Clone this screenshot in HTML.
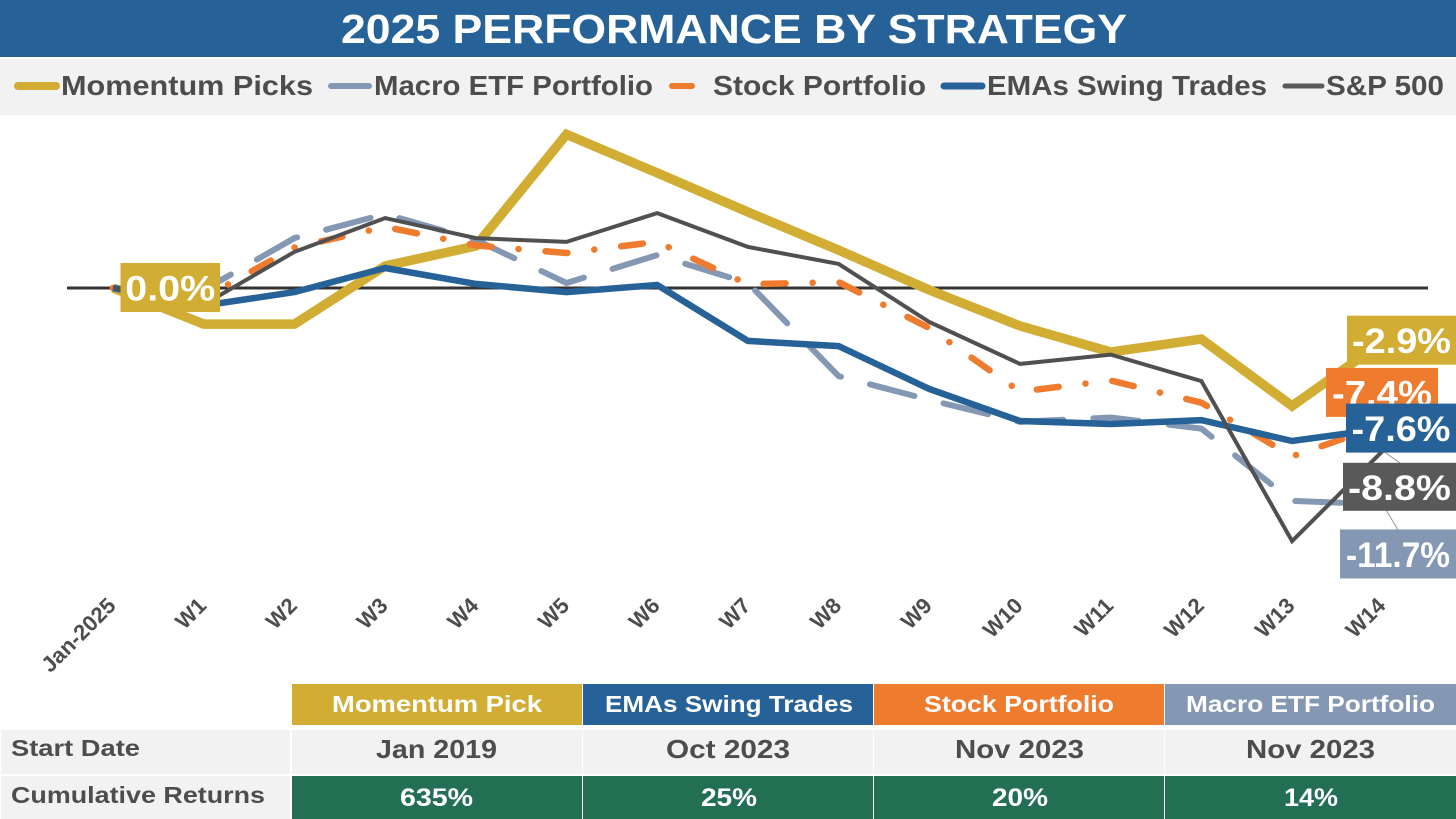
<!DOCTYPE html>
<html lang="en">
<head>
<meta charset="utf-8">
<title>2025 Performance by Strategy</title>
<style>
  html, body { margin: 0; padding: 0; background: #fff; }
  body { width: 1456px; height: 819px; overflow: hidden; }
  svg { display: block; font-family: "Liberation Sans", "DejaVu Sans", sans-serif; font-weight: 700; }
</style>
</head>
<body>
<svg id="chart" xmlns="http://www.w3.org/2000/svg" width="1456" height="819" viewBox="0 0 1456 819">
  <rect x="0" y="0" width="1456" height="819" fill="#ffffff"/>
  <g>
    <rect x="0" y="0" width="1456" height="57" fill="#266298"/>
    <text x="341" y="43" font-size="41" fill="#ffffff" textLength="786" lengthAdjust="spacingAndGlyphs">2025 PERFORMANCE BY STRATEGY</text>
  </g>
  <g font-size="28" fill="#4d4d4d">
    <rect x="0" y="59" width="1456" height="56" fill="#f2f2f2"/>
    <g>
      <line x1="18" y1="86" x2="56" y2="86" stroke="#d2ad33" stroke-width="8" stroke-linecap="round"/>
      <text x="61" y="95" textLength="252" lengthAdjust="spacingAndGlyphs">Momentum Picks</text>
    </g>
    <g>
      <line x1="331" y1="86" x2="369" y2="86" stroke="#8497b3" stroke-width="6" stroke-linecap="round"/>
      <text x="374" y="95" textLength="279" lengthAdjust="spacingAndGlyphs">Macro ETF Portfolio</text>
    </g>
    <g>
      <line x1="672" y1="86" x2="692" y2="86" stroke="#ef7b2e" stroke-width="6" stroke-linecap="round"/>
      <text x="713" y="95" textLength="213" lengthAdjust="spacingAndGlyphs">Stock Portfolio</text>
    </g>
    <g>
      <line x1="944" y1="86" x2="982" y2="86" stroke="#266298" stroke-width="7" stroke-linecap="round"/>
      <text x="987" y="95" textLength="280" lengthAdjust="spacingAndGlyphs">EMAs Swing Trades</text>
    </g>
    <g>
      <line x1="1285" y1="86" x2="1322" y2="86" stroke="#595959" stroke-width="5" stroke-linecap="round"/>
      <text x="1326" y="95" textLength="118" lengthAdjust="spacingAndGlyphs">S&amp;P 500</text>
    </g>
  </g>
  <g id="plot"></g>
  <g text-anchor="middle">
    <g font-size="23.5" fill="#ffffff">
      <rect x="292" y="684" width="290" height="41" fill="#d2ad33"/>
      <rect x="583" y="684" width="290" height="41" fill="#266298"/>
      <rect x="874" y="684" width="290" height="41" fill="#ef7b2e"/>
      <rect x="1165" y="684" width="291" height="41" fill="#8497b3"/>
      <text x="437" y="712" textLength="210" lengthAdjust="spacingAndGlyphs">Momentum Pick</text>
      <text x="729" y="712" textLength="248" lengthAdjust="spacingAndGlyphs">EMAs Swing Trades</text>
      <text x="1019" y="712" textLength="190" lengthAdjust="spacingAndGlyphs">Stock Portfolio</text>
      <text x="1310.500" y="712" textLength="249" lengthAdjust="spacingAndGlyphs">Macro ETF Portfolio</text>
    </g>
    <g fill="#4d4d4d">
      <rect x="1" y="730" width="289" height="44" fill="#f2f2f2"/>
      <rect x="292" y="730" width="290" height="44" fill="#f2f2f2"/>
      <rect x="583" y="730" width="290" height="44" fill="#f2f2f2"/>
      <rect x="874" y="730" width="290" height="44" fill="#f2f2f2"/>
      <rect x="1165" y="730" width="291" height="44" fill="#f2f2f2"/>
      <text x="11" y="756" font-size="23" text-anchor="start" textLength="129" lengthAdjust="spacingAndGlyphs">Start Date</text>
      <text x="436.500" y="758" font-size="26" textLength="121" lengthAdjust="spacingAndGlyphs">Jan 2019</text>
      <text x="728" y="758" font-size="26" textLength="124" lengthAdjust="spacingAndGlyphs">Oct 2023</text>
      <text x="1019.500" y="758" font-size="26" textLength="129" lengthAdjust="spacingAndGlyphs">Nov 2023</text>
      <text x="1310.500" y="758" font-size="26" textLength="129" lengthAdjust="spacingAndGlyphs">Nov 2023</text>
    </g>
    <g fill="#ffffff">
      <rect x="1" y="776" width="289" height="43" fill="#f2f2f2"/>
      <rect x="292" y="776" width="290" height="43" fill="#226f54"/>
      <rect x="583" y="776" width="290" height="43" fill="#226f54"/>
      <rect x="874" y="776" width="290" height="43" fill="#226f54"/>
      <rect x="1165" y="776" width="291" height="43" fill="#226f54"/>
      <text x="11" y="803" font-size="23" text-anchor="start" fill="#4d4d4d" textLength="254" lengthAdjust="spacingAndGlyphs">Cumulative Returns</text>
      <text x="436.500" y="806" font-size="25" textLength="73" lengthAdjust="spacingAndGlyphs">635%</text>
      <text x="729" y="806" font-size="25" textLength="56" lengthAdjust="spacingAndGlyphs">25%</text>
      <text x="1020" y="806" font-size="25" textLength="56" lengthAdjust="spacingAndGlyphs">20%</text>
      <text x="1311" y="806" font-size="25" textLength="54" lengthAdjust="spacingAndGlyphs">14%</text>
    </g>
  </g>
</svg>
<script>
const categories = ["Jan-2025", "W1", "W2", "W3", "W4", "W5", "W6", "W7", "W8", "W9", "W10", "W11", "W12", "W13", "W14"];
const momentumPicks = [0, -1.95, -1.95, 1.19, 2.27, 8.3, 6.22, 4.11, 2.05, -0.11, -2.05, -3.46, -2.76, -6.38, -2.9];
const macroEtf = [0, -0.11, 2.70, 4.0, 2.6, 0.27, 1.78, 0.27, -4.76, -6.05, -7.24, -7.0, -7.6, -11.51, -11.7];
const stockPortfolio = [0, -0.54, 2.19, 3.3, 2.3, 1.89, 2.5, 0.2, 0.32, -2.16, -5.6, -5.0, -6.2, -9.1, -7.4];
const emasSwing = [0, -0.95, -0.22, 1.08, 0.22, -0.22, 0.16, -2.86, -3.14, -5.46, -7.19, -7.35, -7.14, -8.27, -7.6];
const sp500 = [0, -0.9, 1.95, 3.78, 2.7, 2.49, 4.05, 2.22, 1.3, -1.84, -4.1, -3.6, -5.03, -13.68, -8.8];

const NS = "http://www.w3.org/2000/svg";
const plot = document.getElementById("plot");

function xScale(i) { return 113 + i * 90.7; }
function yScale(v) { return 288 - v * 18.5; }

function make(tag, attrs, parent) {
  const el = document.createElementNS(NS, tag);
  for (const k in attrs) el.setAttribute(k, attrs[k]);
  parent.appendChild(el);
  return el;
}

function pointsOf(values) {
  return values.map(function (v, i) { return xScale(i).toFixed(1) + "," + yScale(v).toFixed(1); }).join(" ");
}

function drawZeroLine() {
  const zero = make("line", { x1: 67, x2: 1428, y1: yScale(0), y2: yScale(0), stroke: "#333333", "stroke-width": 3 }, plot);
  
  
}

function drawTicks() {
  categories.forEach(function (c, i) {
    const x = xScale(i) + 4;
    const y = 607;
    const t = make("text", { x: x, y: y, "text-anchor": "end", "font-size": 22, fill: "#4d4d4d", transform: "rotate(-45 " + x + " " + y + ")" }, plot);
    t.textContent = c;
    
    
  });
}

function drawSeries(values, color, width, dash, cap, offset) {
  const attrs = { points: pointsOf(values), fill: "none", stroke: color, "stroke-width": width, "stroke-linejoin": "miter", "stroke-miterlimit": 10, "stroke-linecap": cap };
  if (dash) attrs["stroke-dasharray"] = dash;
  if (offset) attrs["stroke-dashoffset"] = offset;
  return make("polyline", attrs, plot);
}

function drawBox(x, y, w, h, color, label, textLen) {
  const box = make("rect", { x: x, y: y, width: w, height: h, fill: color }, plot);
  
  
  const t = make("text", { x: x + w / 2, y: y + h / 2 + 13, "text-anchor": "middle", "font-size": 35, fill: "#ffffff", textLength: textLen, lengthAdjust: "spacingAndGlyphs" }, plot);
  t.textContent = label;
  
  
}

function pct(v) { return v.toFixed(1) + "%"; }
function last(a) { return a[a.length - 1]; }

function drawLeader(value, x2, y2) {
  const l = make("line", { x1: xScale(14), y1: yScale(value), x2: x2, y2: y2, stroke: "#999999", "stroke-width": 1 }, plot);
  
  
}

drawZeroLine();
drawTicks();

const goldLine = drawSeries(momentumPicks, "#d2ad33", 9.5, null, "butt");



const macroLine = drawSeries(macroEtf, "#8497b3", 6, "46 30", "round");



const stockLine = drawSeries(stockPortfolio, "#ef7b2e", 6.5, "22 27 0.1 27", "round", 6);



const emaLine = drawSeries(emasSwing, "#266298", 6.5, null, "butt");



const spLine = drawSeries(sp500, "#505050", 4, null, "butt");



drawLeader(last(sp500), 1400, 463);
drawLeader(last(macroEtf), 1398, 530);

drawBox(120.5, yScale(momentumPicks[0]) - 25, 99.5, 49, "#d2ad33", pct(momentumPicks[0]), 90);
drawBox(1347, yScale(last(momentumPicks)) - 26, 109, 49, "#d2ad33", pct(last(momentumPicks)), 99);
drawBox(1326, yScale(last(stockPortfolio)) - 57, 112, 49, "#ef7b2e", pct(last(stockPortfolio)), 100);
drawBox(1346, yScale(last(emasSwing)) - 25, 110, 49, "#266298", pct(last(emasSwing)), 99);
drawBox(1343, yScale(last(sp500)) + 12, 113, 48, "#595959", pct(last(sp500)), 103);
drawBox(1340, yScale(last(macroEtf)) + 25, 116, 49, "#8497b3", pct(last(macroEtf)), 104);
</script>
</body>
</html>
